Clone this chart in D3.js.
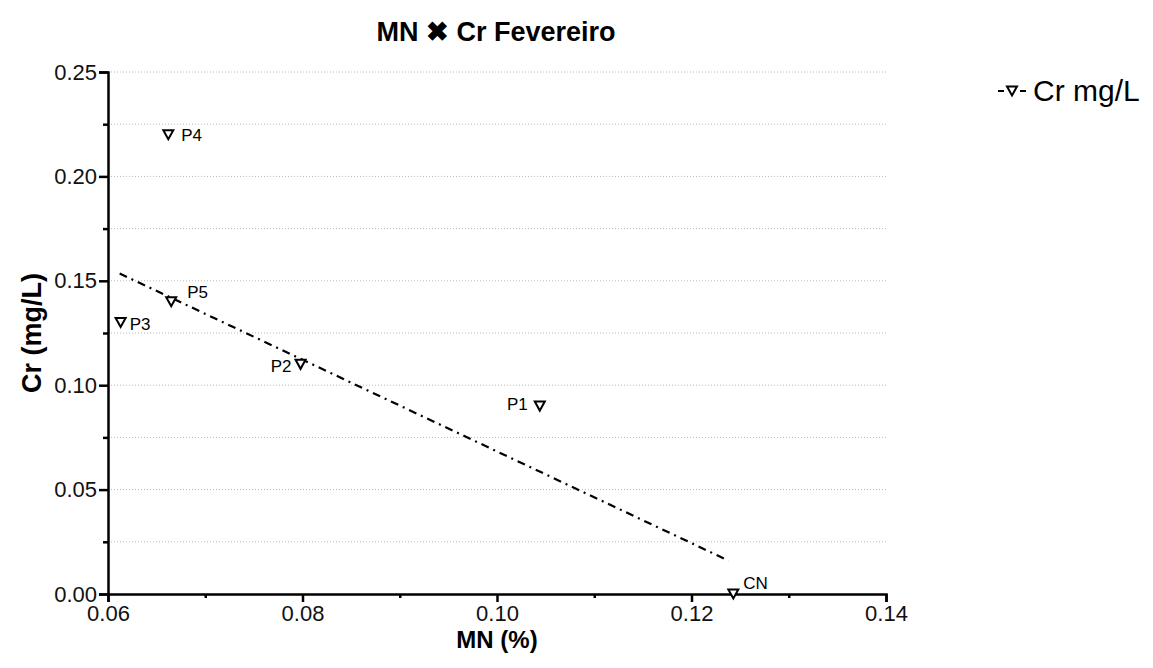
<!DOCTYPE html>
<html lang="pt">
<head>
    <meta charset="UTF-8">
    <title>MN x Cr Fevereiro</title>
    <script src="https://d3js.org/d3.v7.min.js"></script>
    <style>
        body {
            margin: 0;
            background: #fff;
            font-family: Arial, "Liberation Sans", sans-serif;
        }
        .grid line {
            stroke: #b8b8b8;
            stroke-width: 1;
            stroke-dasharray: 1, 2;
        }
    </style>
</head>
<body>
    <svg id="chart"></svg>

    <script>
        // dados
        const pontos = ["CN", "P1", "P2", "P3", "P4", "P5"];
        const mn = [0.1243, 0.1044, 0.0798, 0.0613, 0.0662, 0.0665];
        const cr = [0.000, 0.090, 0.110, 0.130, 0.220, 0.140];

        // reta de ajuste (extremos)
        const ajusteMN = [0.0612, 0.1238];
        const ajusteCr = [0.1535, 0.0160];

        const xTicks = [0.06, 0.08, 0.10, 0.12, 0.14];
        const yTicks = [0.00, 0.05, 0.10, 0.15, 0.20, 0.25];

        const width = 1153;
        const height = 668;
        const margin = {top: 72, right: 267, bottom: 74, left: 108};

        const svg = d3.select("#chart")
                      .attr("width", width)
                      .attr("height", height);

        const xScale = d3.scaleLinear()
                         .domain([0.06, 0.14])
                         .range([margin.left, width - margin.right]);

        const yScale = d3.scaleLinear()
                         .domain([0, 0.25])
                         .range([height - margin.bottom, margin.top]);

        // linhas de grade (a cada 0.025)
        const gridVals = d3.range(1, 11).map(i => i * 0.025);
        svg.append("g")
           .attr("class", "grid")
           .selectAll("line")
           .data(gridVals)
           .enter()
           .append("line")
           .attr("x1", xScale(0.06))
           .attr("x2", xScale(0.14))
           .attr("y1", d => yScale(d))
           .attr("y2", d => yScale(d));

        // ticks menores
        const xMinor = d3.axisBottom(xScale)
                         .tickValues(d3.range(0, 4).map(i => 0.07 + i * 0.02))
                         .tickSize(4).tickFormat("");
        const yMinor = d3.axisLeft(yScale)
                         .tickValues(d3.range(0, 5).map(i => 0.025 + i * 0.05))
                         .tickSize(5).tickFormat("");

        svg.append("g")
           .attr("class", "axis")
           .attr("transform", `translate(0, ${yScale(0)})`)
           .call(xMinor)
           .select(".domain").remove();
        svg.append("g")
           .attr("class", "axis")
           .attr("transform", `translate(${xScale(0.06)}, 0)`)
           .call(yMinor)
           .select(".domain").remove();

        // eixos
        const xAxis = d3.axisBottom(xScale)
                        .tickValues(xTicks)
                        .tickSizeOuter(0)
                        .tickSize(8)
                        .tickPadding(3)
                        .tickFormat(d3.format(".2f"));
        const yAxis = d3.axisLeft(yScale)
                        .tickValues(yTicks)
                        .tickSizeOuter(0)
                        .tickSize(9)
                        .tickPadding(2)
                        .tickFormat(d3.format(".2f"));

        svg.append("g")
           .attr("class", "axis")
           .attr("transform", `translate(0, ${yScale(0)})`)
           .call(xAxis);

        svg.append("g")
           .attr("class", "axis")
           .attr("transform", `translate(${xScale(0.06)}, 0)`)
           .call(yAxis);

        svg.selectAll(".axis path, .axis line")
           .attr("stroke", "#000")
           .attr("stroke-width", 2.5);
        svg.selectAll(".axis .tick text")
           .attr("font-family", "Arial, 'Liberation Sans', sans-serif")
           .attr("font-size", 22)
           .attr("fill", "#111");

        // reta de ajuste
        const linha = d3.line()
                        .x(d => xScale(d[0]))
                        .y(d => yScale(d[1]));
        svg.append("path")
           .datum(ajusteMN.map((v, i) => [v, ajusteCr[i]]))
           .attr("d", linha)
           .attr("fill", "none")
           .attr("stroke", "#000")
           .attr("stroke-width", 2.2)
           .attr("stroke-dasharray", "8,5,2,5");

        // marcadores
        const tri = "M-5,-4.5L5,-4.5L0,4.5Z";
        const dados = pontos.map((p, i) => ({nome: p, mn: mn[i], cr: cr[i]}));

        svg.selectAll(".ponto")
           .data(dados)
           .enter()
           .append("path")
           .attr("class", "ponto")
           .attr("d", tri)
           .attr("transform", d => `translate(${xScale(d.mn)}, ${yScale(d.cr)})`)
           .attr("fill", "#fff")
           .attr("stroke", "#000")
           .attr("stroke-width", 2);

        // rótulos dos pontos
        const desloc = {
            CN: [10, -5, "start"],
            P1: [-12, 4, "end"],
            P2: [-9, 8, "end"],
            P3: [9, 7, "start"],
            P4: [13, 6, "start"],
            P5: [16, -4, "start"]
        };
        svg.selectAll(".rotulo")
           .data(dados)
           .enter()
           .append("text")
           .attr("class", "rotulo")
           .attr("x", d => xScale(d.mn) + desloc[d.nome][0])
           .attr("y", d => yScale(d.cr) + desloc[d.nome][1])
           .attr("text-anchor", d => desloc[d.nome][2])
           .attr("font-size", 17)
           .text(d => d.nome);

        // título
        svg.append("text")
           .attr("x", 496)
           .attr("y", 41)
           .attr("text-anchor", "middle")
           .attr("font-size", 27)
           .attr("font-weight", "bold")
           .text("MN ✖ Cr Fevereiro");

        // títulos dos eixos
        svg.append("text")
           .attr("x", 497)
           .attr("y", 648)
           .attr("text-anchor", "middle")
           .attr("font-size", 24)
           .attr("font-weight", "bold")
           .text("MN (%)");

        svg.append("text")
           .attr("transform", "translate(41, 333) rotate(-90)")
           .attr("text-anchor", "middle")
           .attr("font-size", 27)
           .attr("font-weight", "bold")
           .text("Cr (mg/L)");

        // legenda
        const leg = svg.append("g").attr("transform", "translate(1012, 91)");
        leg.append("line").attr("x1", -14).attr("x2", -8).attr("stroke", "#000").attr("stroke-width", 2);
        leg.append("line").attr("x1", 8).attr("x2", 14).attr("stroke", "#000").attr("stroke-width", 2);
        leg.append("path").attr("d", tri).attr("fill", "#fff").attr("stroke", "#000").attr("stroke-width", 2);
        leg.append("text")
           .attr("x", 21)
           .attr("y", 10)
           .attr("font-size", 30)
           .text("Cr mg/L");
    </script>
</body>
</html>
